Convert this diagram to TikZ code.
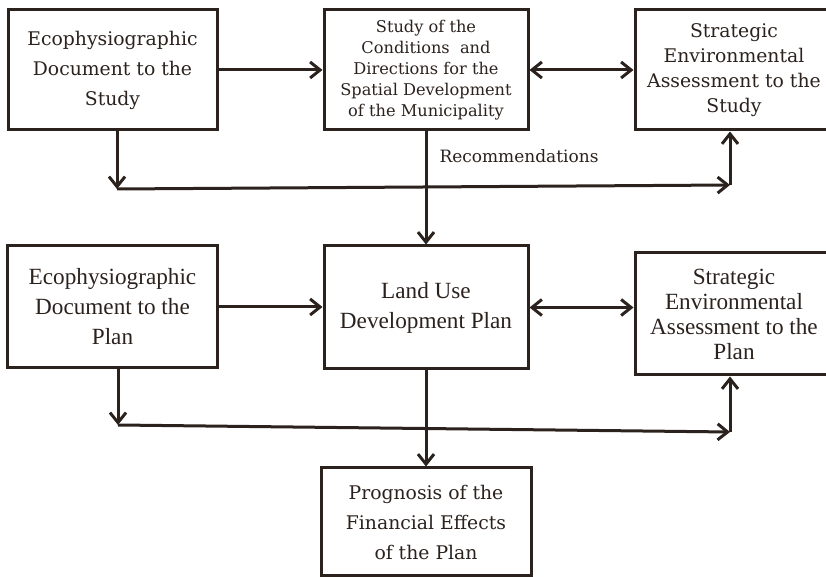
\documentclass[tikz,border=0pt]{standalone}
\usepackage{fontspec}
\setmainfont{DejaVu Serif}
\newfontfamily\narrowserif{Liberation Serif}
\usetikzlibrary{positioning,arrows.meta}
\definecolor{ink}{HTML}{2B221D}

\begin{document}
\begin{tikzpicture}[x=0.5pt, y=-0.5pt, node distance=52pt,
  box/.style={draw=ink, line width=1.5pt, align=center, text=ink, inner sep=2pt,
    font=\fontsize{9.4}{15}\selectfont},
  lowbox/.style={box, font=\narrowserif\fontsize{11.6}{15}\selectfont},
  link/.style={draw=ink, line width=1.5pt, -{Straight Barb[length=5pt,width=8pt]}},
  twolink/.style={link, {Straight Barb[length=5pt,width=8pt]}-{Straight Barb[length=5pt,width=8pt]}}]
\useasboundingbox (0,0) rectangle (826,577);
% first stage: the study
\node[box, minimum width=104.5pt, minimum height=60pt] (ecostudy) at (112.5,70) {Ecophysiographic\\Document to the\\Study};
\node[box, minimum width=102pt, minimum height=60pt, right=of ecostudy, font=\fontsize{8.1}{10.5}\selectfont] (study) {Study of the\\Conditions\ \ and\\Directions for the\\Spatial Development\\of the Municipality};
\node[box, minimum width=99pt, minimum height=60pt, right=of study, font=\fontsize{9.4}{12.5}\selectfont] (seastudy) {Strategic\\Environmental\\Assessment to the\\Study};
% second stage: the plan
\node[lowbox, minimum width=105pt, minimum height=61pt, below=56.5pt of ecostudy] (ecoplan) {Ecophysiographic\\Document to the\\Plan};
\node[lowbox, minimum width=102pt, minimum height=61.5pt, below=56.5pt of study] (plan) {Land Use\\Development Plan};
\node[lowbox, minimum width=99pt, minimum height=61pt, below=60pt of seastudy, font=\narrowserif\fontsize{11.6}{12.5}\selectfont] (seaplan) {Strategic\\Environmental\\Assessment to the\\Plan};
\node[box, minimum width=105pt, minimum height=54pt, below=48pt of plan] (finance) {Prognosis of the\\Financial Effects\\of the Plan};
% buses
\coordinate (topl) at (117,189);
\coordinate (topr) at (730,185);
\coordinate (lowl) at (118,425);
\coordinate (lowr) at (730,432);
\draw[link] (ecostudy) -- (study);
\draw[twolink] (study) -- (seastudy);
\draw[link] (ecostudy.south -| topl) -- (topl);
\draw[link] (topl) -- (topr);
\draw[link] (topr) -- (topr |- seastudy.south);
\draw[link] (study) -- (plan) node[pos=0.22, right=6pt, inner sep=0pt, text=ink, font=\fontsize{8.5}{10}\selectfont] (recom) {Recommendations};
\draw[link] (ecoplan) -- (ecoplan -| plan.west);
\draw[twolink] (plan.east) -- (plan.east -| seaplan.west);
\draw[link] (ecoplan.south -| lowl) -- (lowl);
\draw[link] (lowl) -- (lowr);
\draw[link] (lowr) -- (lowr |- seaplan.south);
\draw[link] (plan) -- (finance);
\end{tikzpicture}
\end{document}
